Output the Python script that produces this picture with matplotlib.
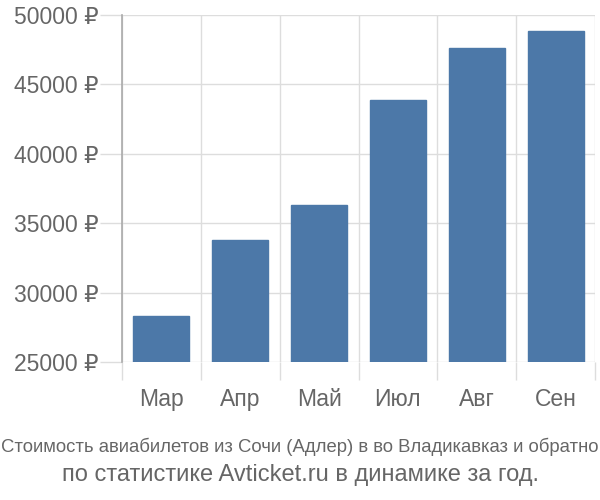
import matplotlib
matplotlib.use("Agg")
import matplotlib.pyplot as plt

months = ["Мар", "Апр", "Май", "Июл", "Авг", "Сен"]
prices = [28300, 33800, 36300, 43850, 47600, 48850]
yticks = [25000, 30000, 35000, 40000, 45000, 50000]
ytick_labels = [f"{v} ₽" for v in yticks]
title1 = "Стоимость авиабилетов из Сочи (Адлер) в во Владикавказ и обратно"
title2 = "по статистике Avticket.ru в динамике за год."

plt.rcParams['font.family'] = ['Liberation Sans', 'DejaVu Sans']

fig = plt.figure(figsize=(6, 5), dpi=100)
ax = fig.add_axes([122/600, 1-362/500, (595-122)/600, (362-15)/500])

x = list(range(len(months)))
ax.bar(x, [p - yticks[0] for p in prices], bottom=yticks[0], width=0.71,
       color="#4c78a8", edgecolor="#4c78a8", zorder=3)

ax.set_xlim(-0.5, len(months) - 0.5)
ax.set_ylim(yticks[0], yticks[-1])
ax.set_yticks(yticks)
ax.set_yticklabels(ytick_labels)
ax.set_xticks(x)
ax.set_xticklabels(months)
ax.set_xticks([i - 0.5 for i in range(len(months) + 1)], minor=True)

ax.grid(axis='y', color="#dddddd", linewidth=1, zorder=0)
ax.grid(axis='x', which='minor', color="#dddddd", linewidth=1, zorder=0)
for s in ["top", "right", "bottom"]:
    ax.spines[s].set_visible(False)
ax.spines["left"].set_color("#aaaaaa")
ax.spines["left"].set_linewidth(1.2)

ax.tick_params(axis='y', length=16, color="#dddddd", width=1, labelsize=16.5,
               labelcolor="#666666", pad=1)
ax.tick_params(axis='x', which='major', length=0, labelsize=16.5,
               labelcolor="#666666", pad=19)
ax.tick_params(axis='x', which='minor', length=13, color="#dddddd", width=1)

fig.text(0.5, 1-447/500, title1, ha='center', va='center', fontsize=13.3,
         color="#666666")
fig.text(0.5, 1-475/500, title2, ha='center', va='center', fontsize=17,
         color="#666666")

fig.savefig("out.png", dpi=100)
